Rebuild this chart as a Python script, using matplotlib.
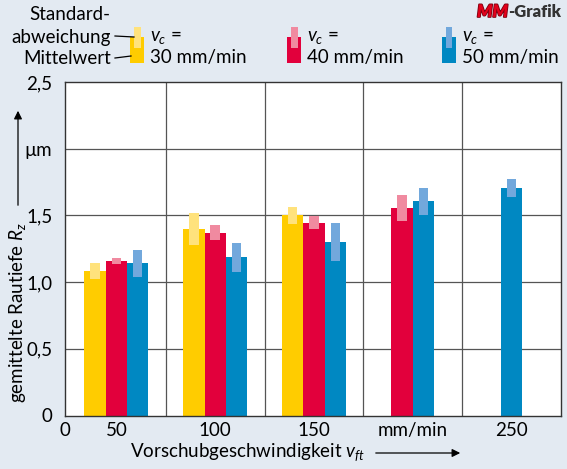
import numpy as np
import matplotlib
matplotlib.use("Agg")
import matplotlib.pyplot as plt
from matplotlib.patches import Rectangle, FancyArrowPatch
import matplotlib.patheffects as pe

plt.rcParams['font.family'] = ['Lato', 'DejaVu Sans']
plt.rcParams['mathtext.fontset'] = 'custom'
plt.rcParams['mathtext.rm'] = 'Lato'
plt.rcParams['mathtext.it'] = 'Lato:italic'

# Daten: mittlere Rautiefe Rz (µm) und Standardabweichung je Vorschub
categories = ["50", "100", "150", "mm/min", "250"]
mean_30 = [1.085, 1.40, 1.50, np.nan, np.nan]
std_30 = [0.06, 0.12, 0.065, np.nan, np.nan]
mean_40 = [1.16, 1.37, 1.445, 1.555, np.nan]
std_40 = [0.023, 0.055, 0.05, 0.10, np.nan]
mean_50 = [1.14, 1.185, 1.30, 1.605, 1.705]
std_50 = [0.10, 0.11, 0.14, 0.10, 0.07]
series_labels = ["30 mm/min", "40 mm/min", "50 mm/min"]

BG = "#e3eaf2"
colors = ["#ffcc00", "#e2003c", "#0088c2"]
light = ["#ffe27c", "#f08aa0", "#72a8dc"]
FS = 13.5

fig = plt.figure(figsize=(5.67, 4.69), dpi=100, facecolor=BG)
ax = fig.add_axes([65/567, 1-415.5/469, 496/567, 333.5/469])
ax.set_facecolor("white")

bw = 0.216
sw = 0.095
means = [mean_30, mean_40, mean_50]
stds = [std_30, std_40, std_50]
x = np.arange(len(categories))
for i in range(len(x)):
    present = [k for k in range(3) if not np.isnan(means[k][i])]
    n = len(present)
    for j, k in enumerate(present):
        xc = x[i] + (j - (n - 1) / 2) * bw
        m = means[k][i]
        s = stds[k][i]
        ax.bar(xc, m, width=bw, color=colors[k], linewidth=0, zorder=2)
        ax.bar(xc, 2 * s, bottom=m - s, width=sw, color=light[k], linewidth=0, zorder=3)

ax.set_xlim(-0.52, 4.5)
ax.set_ylim(0, 2.5)
ax.set_yticks([0, 0.5, 1.0, 1.5, 2.0, 2.5])
ax.set_yticklabels(["0", "0,5", "1,0", "1,5", "µm", "2,5"])
ax.set_xticks([-0.52] + list(x))
ax.set_xticklabels(["0"] + categories)
ax.tick_params(length=0, labelsize=FS, pad=5, colors="black")
ax.tick_params(axis="y", pad=9)
for v in [0.5, 1.0, 1.5, 2.0]:
    ax.axhline(v, color="#555555", linewidth=0.9, zorder=1)
for v in [0.5, 1.5, 2.5, 3.5]:
    ax.axvline(v, color="#555555", linewidth=0.9, zorder=1)
for sp in ax.spines.values():
    sp.set_color("#333333")
    sp.set_linewidth(1.0)


def px(xp, yp):
    return xp / 567, 1 - yp / 469


# Achsentitel mit Pfeilen
fig.text(*px(18, 312), r"gemittelte Rautiefe $R_z$", rotation=90,
         ha="center", va="center", fontsize=FS)
fig.add_artist(FancyArrowPatch(px(18, 208), px(18, 108), transform=fig.transFigure,
                               arrowstyle="-|>", mutation_scale=12, color="black", linewidth=0.9))
fig.text(*px(248, 452), r"Vorschubgeschwindigkeit $v_{ft}$",
         ha="center", va="center", fontsize=FS)
fig.add_artist(FancyArrowPatch(px(373, 453), px(463, 453), transform=fig.transFigure,
                               arrowstyle="-|>", mutation_scale=12, color="black", linewidth=0.9))

# Legende
icon_x = [130, 287, 442]
for k in range(3):
    x0 = icon_x[k]
    fig.add_artist(Rectangle(px(x0, 63), 14/567, 26/469, transform=fig.transFigure,
                             facecolor=colors[k], edgecolor="none"))
    fig.add_artist(Rectangle(px(x0 + 3.5, 48), 7/567, 21/469, transform=fig.transFigure,
                             facecolor=light[k], edgecolor="none"))
    fig.text(*px(x0 + 20, 37), r"$v_c$ =", ha="left", va="center", fontsize=FS)
    fig.text(*px(x0 + 20, 58), series_labels[k], ha="left", va="center", fontsize=FS)

fig.text(*px(70, 14), "Standard-", ha="center", va="center", fontsize=FS)
fig.text(*px(111, 37), "abweichung", ha="right", va="center", fontsize=FS)
fig.text(*px(111, 59), "Mittelwert", ha="right", va="center", fontsize=FS)
fig.add_artist(plt.Line2D([115/567, 134/567], [1-36/469, 1-37/469],
                          transform=fig.transFigure, color="black", linewidth=0.9))
fig.add_artist(plt.Line2D([115/567, 131/567], [1-58/469, 1-56/469],
                          transform=fig.transFigure, color="black", linewidth=0.9))

# Logo
t2 = fig.text(*px(561, 12), "-Grafik", ha="right", va="center", fontsize=12,
              fontweight="heavy", color="#333333")
r = fig.canvas.get_renderer()
bb = t2.get_window_extent(renderer=r)
fig.text(bb.x0 / fig.bbox.width, 1 - 12/469, "MM", ha="right", va="center", fontsize=12.5,
         fontweight="heavy", fontstyle="italic", color="#e2001a",
         path_effects=[pe.withStroke(linewidth=1.2, foreground="#7a0010")])

fig.savefig("out.png", dpi=100, facecolor=BG)
